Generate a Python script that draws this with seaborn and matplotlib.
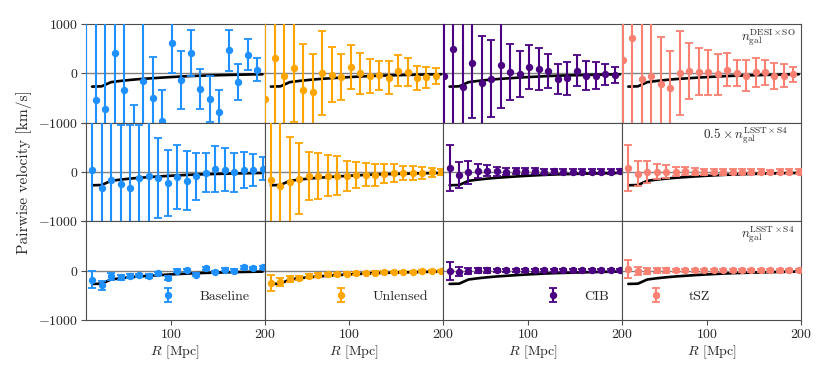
"""
Pairwise velocity vs separation for four map types (Baseline, Unlensed,
CIB, tSZ) at three galaxy number densities, with the theory curve.
"""
import matplotlib
matplotlib.use("Agg")
import matplotlib.pyplot as plt
import pandas as pd
import seaborn as sns

# separation bins (top row sits slightly offset from the lower two rows)
R_TOP = [10.5, 20.6, 30.7, 40.8, 50.8, 60.9, 71.0, 81.1, 91.2, 101.3,
         111.3, 121.4, 131.5, 141.6, 151.7, 161.8, 171.8, 181.9, 192.0]
R_LOW = [16.5, 26.6, 36.6, 46.7, 56.8, 66.8, 76.9, 87.0, 97.1, 107.1,
         117.2, 127.3, 137.3, 147.4, 157.5, 167.5, 177.6, 187.6, 197.7]

# theory prediction [km/s]
theory_v = [-270, -265, -180, -155, -135, -118, -105, -92, -80, -70,
            -60, -52, -46, -41, -36, -31, -27, -23, -20]

# --- DESI x SO ---
desi_baseline_v = [-1200, -541, -726, 411, -336, -1150, -164, -493, -973, 623,
                   -130, 411, -322, -527, -781, 466, -178, 377, 75]
desi_baseline_err = [2500, 1800, 1800, 1500, 1500, 500, 1400, 822, 644, 623,
                     590, 475, 410, 470, 445, 410, 370, 310, 233]
desi_unlensed_v = [-514, 315, -48, 110, -342, -377, 7, -27, -75, 123,
                   0, -55, -41, -89, 55, 27, -96, -82, -55]
desi_unlensed_err = [2000, 1500, 1400, 1100, 945, 775, 860, 560, 465, 450,
                     415, 340, 290, 330, 320, 285, 245, 212, 155]
desi_cib_v = [-48, 486, -274, 212, -192, -110, 171, 21, -7, 123,
              89, 41, -110, -103, 48, -48, -48, -21, -41]
desi_cib_err = [2000, 1600, 1500, 1116, 950, 775, 870, 570, 465, 445,
                425, 343, 300, 332, 315, 290, 267, 216, 164]
desi_tsz_v = [274, 712, -116, -62, -212, -308, 14, 48, 34, 21,
              -21, 69, 0, -48, 21, 21, -48, -48, -21]
desi_tsz_err = [2000, 1800, 1500, 1200, 950, 760, 850, 565, 472, 455,
                420, 335, 267, 310, 295, 257, 263, 230, 150]

# --- 0.5 x LSST x S4 ---
half_baseline_v = [48, -320, -170, -245, -333, -122, -75, -122, -224, -102,
                   -177, -88, -14, 61, 48, -7, 34, 34, 68]
half_baseline_err = [1500, 1400, 1300, 1200, 1280, 1067, 1150, 815, 665, 640,
                     595, 475, 400, 460, 442, 390, 365, 323, 228]
half_unlensed_v = [-163, -279, -197, -136, -88, -88, -75, -75, -88, -54,
                   -54, -54, -34, -20, -20, -20, -20, -7, 0]
half_unlensed_err = [1500, 1400, 910, 724, 483, 469, 422, 391, 306, 262,
                     238, 224, 194, 180, 146, 136, 122, 92, 68]
half_cib_v = [82, -61, -7, 27, 27, 14, 7, 14, 14, 14,
              7, 14, 7, 7, 7, 7, 7, 7, 14]
half_cib_err = [469, 262, 231, 143, 109, 88, 75, 65, 60, 56,
                54, 52, 50, 50, 48, 48, 46, 46, 45]
half_tsz_v = [82, -34, -7, 7, 7, 7, 20, 7, 7, 7,
              0, 7, 7, 7, 7, 0, 7, 7, 7]
half_tsz_err = [466, 252, 221, 153, 126, 95, 75, 65, 60, 56,
                54, 52, 50, 50, 48, 48, 46, 46, 45]

# --- LSST x S4 ---
lsst_baseline_v = [-182, -300, -118, -132, -115, -97, -108, -56, -150, 0,
                   7, -80, 48, -28, 21, 0, 65, 48, 65]
lsst_baseline_err = [170, 90, 65, 50, 42, 38, 36, 34, 40, 32,
                     30, 30, 28, 28, 27, 26, 25, 25, 24]
lsst_unlensed_v = [-241, -228, -172, -145, -103, -90, -76, -69, -65, -55,
                   -48, -41, -34, -28, -21, -20, -14, -12, -7]
lsst_unlensed_err = [162, 76, 62, 45, 38, 34, 32, 30, 28, 27,
                     26, 25, 24, 23, 22, 22, 21, 20, 20]
lsst_cib_v = [0, -21, 0, 5, 3, 3, 3, 3, 3, 3,
              3, 3, 3, 3, 3, 3, 3, 3, 3]
lsst_cib_err = [180, 93, 62, 52, 45, 40, 38, 35, 33, 32,
                30, 30, 28, 28, 26, 25, 25, 24, 24]
lsst_tsz_v = [34, 0, 0, 3, 3, 3, 3, 3, 3, 3,
              3, 3, 3, 3, 3, 3, 3, 3, 3]
lsst_tsz_err = [190, 80, 62, 48, 45, 40, 38, 35, 33, 32,
                30, 30, 28, 28, 26, 25, 25, 24, 24]

LABELS = ["Baseline", "Unlensed", "CIB", "tSZ"]
COLORS = ["dodgerblue", "orange", "indigo", "salmon"]
ROW_TEXT = [r"$n_{\mathrm{gal}}^{\mathrm{DESI}\times\mathrm{SO}}$",
            r"$0.5\times n_{\mathrm{gal}}^{\mathrm{LSST}\times\mathrm{S4}}$",
            r"$n_{\mathrm{gal}}^{\mathrm{LSST}\times\mathrm{S4}}$"]
ROW_TEXT_X = [0.665, 0.45, 0.665]
LEGEND_X = [0.38, 0.348, 0.534, 0.114]
Y_TICKS = [-1000, 0, 1000]
X_TICKS = [100, 200]

sns.set_theme(style="ticks")
plt.rcParams.update({
    "font.family": "serif",
    "font.serif": ["cmr10"],
    "mathtext.fontset": "cm",
    "axes.formatter.use_mathtext": True,
    "font.size": 10,
    "axes.labelsize": 10,
    "xtick.labelsize": 10,
    "ytick.labelsize": 10,
    "legend.fontsize": 10,
})


def math_label(val):
    # cmr10 has no minus glyph, so tick labels go through math text
    return rf"${val}$"


def main():
    rows = [
        (R_TOP, [(desi_baseline_v, desi_baseline_err), (desi_unlensed_v, desi_unlensed_err),
                 (desi_cib_v, desi_cib_err), (desi_tsz_v, desi_tsz_err)]),
        (R_LOW, [(half_baseline_v, half_baseline_err), (half_unlensed_v, half_unlensed_err),
                 (half_cib_v, half_cib_err), (half_tsz_v, half_tsz_err)]),
        (R_LOW, [(lsst_baseline_v, lsst_baseline_err), (lsst_unlensed_v, lsst_unlensed_err),
                 (lsst_cib_v, lsst_cib_err), (lsst_tsz_v, lsst_tsz_err)]),
    ]
    theory = pd.DataFrame({"R": R_LOW, "v": theory_v})

    fig, axes = plt.subplots(3, 4, figsize=(8.3, 3.8), dpi=100)
    fig.subplots_adjust(left=0.1036, right=0.965, top=0.937, bottom=0.158, wspace=0, hspace=0)

    for i, (R, series) in enumerate(rows):
        for j, (v, err) in enumerate(series):
            ax = axes[i, j]
            ax.axhline(0, color="0.5", lw=1.0, zorder=0)
            sns.lineplot(data=theory, x="R", y="v", color="black", lw=1.9,
                         errorbar=None, ax=ax, zorder=2)
            ax.errorbar(R, v, yerr=err, fmt="o", color=COLORS[j], ms=4.3,
                        elinewidth=1.5, capsize=2.8, capthick=1.3,
                        label=LABELS[j], zorder=3)
            ax.set_xlim(10, 200)
            ax.set_ylim(-1000, 1000)
            ax.set_xticks(X_TICKS)
            ax.set_yticks(Y_TICKS)
            ax.set_xlabel("")
            ax.set_ylabel("")
            if j == 0:
                # lower rows leave their +1000 label to the "-1000" of the row above
                ylabels = [math_label(t) if (i == 0 or t != 1000) else "" for t in Y_TICKS]
                ax.set_yticklabels(ylabels)
            else:
                ax.set_yticklabels([])
            if i == 2:
                ax.set_xticklabels([math_label(t) for t in X_TICKS])
            else:
                ax.set_xticklabels([])
            for sp in ax.spines.values():
                sp.set_color("0.3")
                sp.set_linewidth(0.8)
            ax.tick_params(direction="out", length=3.5, width=0.8, color="0.3",
                           left=(j == 0), bottom=(i == 2), pad=2)
            if i == 2:
                ax.set_xlabel(r"$R$ [Mpc]", labelpad=2)
                ax.legend(loc="center left", bbox_to_anchor=(LEGEND_X[j], 0.235),
                          frameon=False, borderpad=0, borderaxespad=0,
                          handlelength=2.0, handletextpad=1.3)
        axes[i, 3].text(ROW_TEXT_X[i], 0.97, ROW_TEXT[i], transform=axes[i, 3].transAxes,
                        ha="left", va="top", fontsize=9.5)

    fig.text(0.029, 0.547, "Pairwise velocity [km/s]", rotation=90,
             ha="center", va="center", fontsize=11.2)
    fig.savefig("out.png", dpi=100)
    plt.close(fig)


if __name__ == "__main__":
    main()
